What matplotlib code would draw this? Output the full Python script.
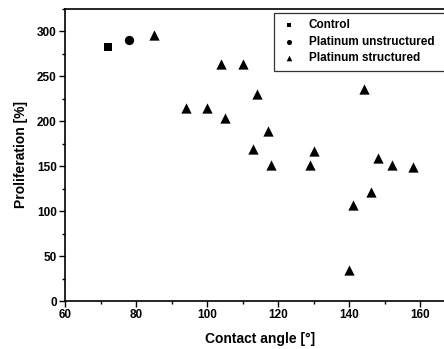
import matplotlib
matplotlib.use("Agg")
import matplotlib.pyplot as plt
from matplotlib.ticker import MultipleLocator

plt.rcParams['font.family'] = ['Liberation Sans', 'DejaVu Sans']
plt.rcParams['font.weight'] = 'bold'

control_x = [72]
control_y = [283]
unstr_x = [78]
unstr_y = [291]
str_x = [85, 94, 100, 104, 105, 110, 113, 114, 117, 118, 129, 130, 140, 141, 144, 146, 148, 152, 158]
str_y = [296, 215, 215, 264, 204, 264, 169, 230, 189, 151, 151, 167, 35, 107, 236, 121, 159, 151, 149]

fig = plt.figure(figsize=(4.44, 3.49), dpi=100)
ax = fig.add_axes([65/444, 48/349, 391/444, 292/349])

ax.scatter(control_x, control_y, marker='s', s=6.0**2, color='black', linewidths=0, label='Control', zorder=3)
ax.scatter(unstr_x, unstr_y, marker='o', s=6.7**2, color='black', linewidths=0, label='Platinum unstructured', zorder=3)
ax.scatter(str_x, str_y, marker='^', s=7.4**2, color='black', linewidths=0, label='Platinum structured', zorder=3)

ax.set_xlim(60, 170)
ax.set_ylim(0, 325)
ax.xaxis.set_major_locator(MultipleLocator(20))
ax.xaxis.set_minor_locator(MultipleLocator(10))
ax.yaxis.set_major_locator(MultipleLocator(50))
ax.yaxis.set_minor_locator(MultipleLocator(25))
ax.tick_params(which='major', direction='out', length=4, width=1, labelsize=8.5, pad=2)
ax.tick_params(which='minor', direction='out', length=2.5, width=1)
ax.tick_params(axis='x', which='both', top=True, direction='in', length=2, width=0.5, color='#999999')
ax.tick_params(axis='x', which='major', direction='out', length=4, width=1, color='black', top=False)
ax.tick_params(axis='x', which='minor', direction='out', length=2.5, width=1, color='black', top=False)
for lbl in ax.get_xticklabels() + ax.get_yticklabels():
    lbl.set_fontweight('bold')
for s in ax.spines.values():
    s.set_linewidth(1.2)
ax.spines['right'].set_visible(False)

ax.set_xlabel('Contact angle [°]', fontsize=10, fontweight='bold', labelpad=8)
ax.set_ylabel('Proliferation [%]', fontsize=10, fontweight='bold', labelpad=6)

leg = ax.legend(loc='upper left', bbox_to_anchor=(274/444, 1 - 69/349, 180/444, 56/349),
                bbox_transform=fig.transFigure, mode='expand',
                fontsize=8.5, frameon=True, fancybox=False, edgecolor='#333333', framealpha=1,
                handletextpad=0.95, borderpad=0.55, labelspacing=0.37, handlelength=1.44,
                markerscale=0.55, borderaxespad=0)
leg.get_frame().set_linewidth(0.9)
for t in leg.get_texts():
    t.set_fontweight('bold')

fig.savefig('out.png', dpi=100)
